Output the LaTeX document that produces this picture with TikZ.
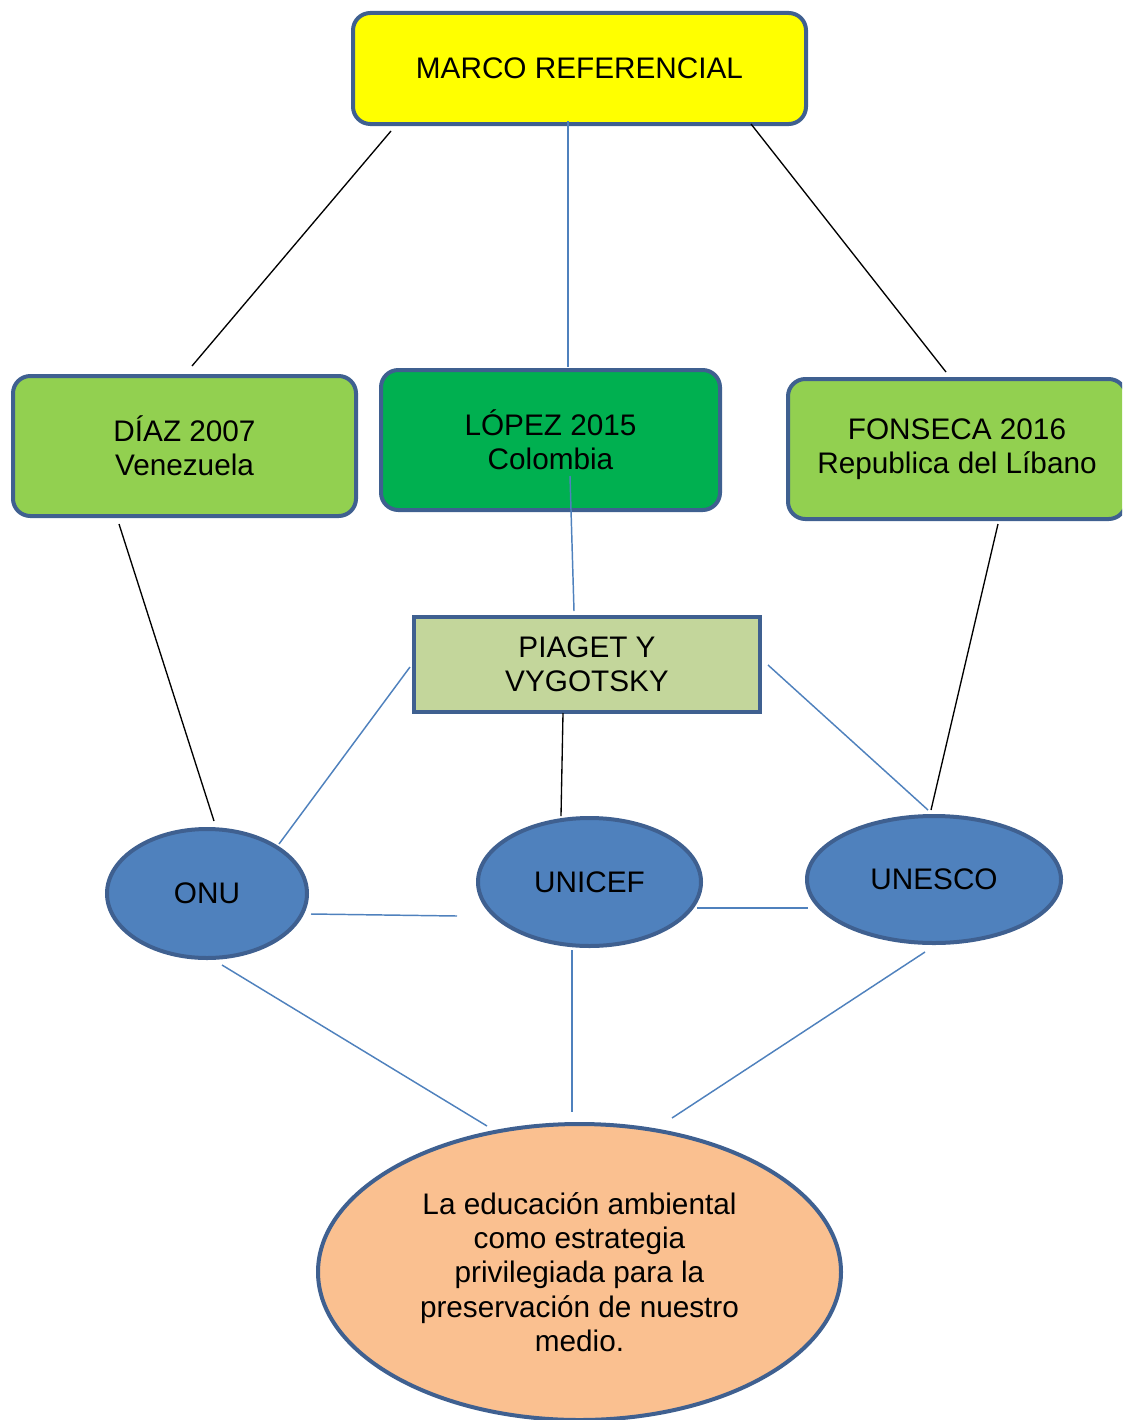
\documentclass[tikz,border=0pt]{standalone}
\usepackage{fontspec}
\setmainfont{Liberation Sans}
\usetikzlibrary{shapes.geometric}
\definecolor{bord}{HTML}{3F6090}
\definecolor{lnblue}{HTML}{4F81BD}
\definecolor{yel}{HTML}{FFFF00}
\definecolor{lgreen}{HTML}{92D050}
\definecolor{dgreen}{HTML}{00B050}
\definecolor{olive}{HTML}{C3D69B}
\definecolor{ellblue}{HTML}{4F81BD}
\definecolor{peach}{HTML}{FAC090}
\tikzset{
  box/.style={draw=bord, line width=3pt, rounded corners=13pt, inner sep=0pt, align=center,
    font=\fontsize{22.3}{25.7}\selectfont},
  sqbox/.style={draw=bord, line width=3pt, inner sep=0pt, align=center,
    font=\fontsize{22.3}{25.7}\selectfont},
  oval/.style={ellipse, draw=bord, line width=3pt, inner sep=0pt, align=center,
    font=\fontsize{22.3}{25.7}\selectfont},
  blk/.style={draw=black, line width=1pt},
  blu/.style={draw=lnblue, line width=1.1pt},
}
\begin{document}
\begin{tikzpicture}[x=0.75pt, y=-0.75pt]
\useasboundingbox (0,0) rectangle (1122,1420);
\begin{scope}
\clip (0,0) rectangle (1122,1420);
\node[box, fill=yel, minimum width=339.75pt, minimum height=83.25pt] (marco) at (579.5,68.5) {MARCO REFERENCIAL};
\node[box, fill=lgreen, minimum width=257.25pt, minimum height=105pt] (diaz) at (184.5,446) {DÍAZ 2007\\Venezuela};
\node[box, fill=dgreen, minimum width=254.25pt, minimum height=105pt] (lopez) at (550.5,440) {LÓPEZ 2015\\Colombia};
\node[box, fill=lgreen, minimum width=253.5pt, minimum height=105pt] (fonseca) at (957,449) {FONSECA 2016\\Republica del Líbano};
\node[sqbox, fill=olive, minimum width=259.5pt, minimum height=71.25pt] (piaget) at (587,664.5) {PIAGET Y\\VYGOTSKY};
\node[oval, fill=ellblue, minimum width=150pt, minimum height=96.75pt] (onu) at (207,893.5) {ONU};
\node[oval, fill=ellblue, minimum width=167.25pt, minimum height=96pt] (unicef) at (589.5,882) {UNICEF};
\node[oval, fill=ellblue, minimum width=190.5pt, minimum height=95.25pt] (unesco) at (934,879.5) {UNESCO};
\node[oval, fill=peach, minimum width=392.25pt, minimum height=222pt] (goal) at (579.5,1272)
  {La educación ambiental\\como estrategia\\privilegiada para la\\preservación de nuestro\\medio.};

\draw[blk] ([shift={(-188.5,62.5)}]marco.center) -- ([shift={(7.5,-80)}]diaz.center);
\draw[blu] ([shift={(-11.5,52.5)}]marco.center) -- ([shift={(17.5,-73)}]lopez.center);
\draw[blk] ([shift={(171.5,55.5)}]marco.center) -- ([shift={(-11,-77)}]fonseca.center);
\draw[blk] ([shift={(-65.5,78)}]diaz.center) -- ([shift={(7,-72.5)}]onu.center);
\draw[blu] ([shift={(19.5,36)}]lopez.center) -- ([shift={(-13,-53.5)}]piaget.center);
\draw[blk] ([shift={(41,75)}]fonseca.center) -- ([shift={(-3,-69.5)}]unesco.center);
\draw[blu] ([shift={(-177,2.5)}]piaget.center) -- ([shift={(72,-49.5)}]onu.center);
\draw[blk] ([shift={(-24,48.5)}]piaget.center) -- ([shift={(-28.5,-66)}]unicef.center);
\draw[blu] ([shift={(181,0.5)}]piaget.center) -- ([shift={(-6,-69.5)}]unesco.center);
\draw[blu] ([shift={(104,20.5)}]onu.center) -- ([shift={(-132.5,34)}]unicef.center);
\draw[blu] ([shift={(107.5,26)}]unicef.center) -- ([shift={(-126,28.5)}]unesco.center);
\draw[blu] ([shift={(15,71.5)}]onu.center) -- ([shift={(-92.5,-146)}]goal.center);
\draw[blu] ([shift={(-17.5,68)}]unicef.center) -- ([shift={(-7.5,-160)}]goal.center);
\draw[blu] ([shift={(-9,72.5)}]unesco.center) -- ([shift={(92.5,-154)}]goal.center);
\end{scope}
\end{tikzpicture}
\end{document}
